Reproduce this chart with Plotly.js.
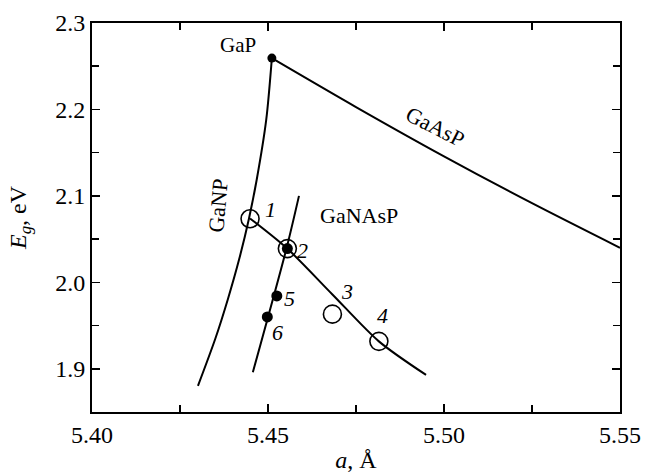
<!DOCTYPE html>
<html>
<head>
<meta charset="utf-8">
<script src="https://cdn.plot.ly/plotly-3.0.1.min.js"></script>
<style>html,body{margin:0;padding:0;background:#fff;}#chart{width:646px;height:474px;}</style>
</head>
<body>
<div id="chart"></div>
<script>
// GaAsP curve (from GaP toward GaAs)
const gaAsP_a  = [5.4511, 5.4750, 5.5000, 5.5250, 5.5500];
const gaAsP_Eg = [2.2594, 2.2028, 2.1458, 2.0916, 2.0400];
// GaNP curve
const gaNP_a  = [5.4511, 5.4495, 5.4468, 5.4446, 5.4418, 5.4386, 5.4350, 5.4301];
const gaNP_Eg = [2.2594, 2.1881, 2.1189, 2.0739, 2.0266, 1.9805, 1.9344, 1.8802];
// GaNAsP steep line
const gaNAsP_a  = [5.4457, 5.4553, 5.4588];
const gaNAsP_Eg = [1.8960, 2.0400, 2.1000];
// GaNAsP curve through samples 1-4
const curve_a  = [5.4449, 5.4554, 5.4683, 5.4815, 5.4949];
const curve_Eg = [2.0739, 2.0393, 1.9860, 1.9317, 1.8929];
// Samples: open circles (1-4) and filled dots (2,5,6)
const open_labels = ["1", "2", "3", "4"];
const open_a  = [5.4449, 5.4555, 5.4683, 5.4815];
const open_Eg = [2.0736, 2.0390, 1.9632, 1.9317];
const filled_labels = ["2", "5", "6"];
const filled_a  = [5.4555, 5.4525, 5.4498];
const filled_Eg = [2.0390, 1.9843, 1.9600];
// GaP point
const gaP_a = [5.4511];
const gaP_Eg = [2.2594];

const font = "Times New Roman";

const lineStyle = {color: "#000", width: 2, shape: "spline", smoothing: 0.8};
const traces = [
  {x: gaAsP_a, y: gaAsP_Eg, mode: "lines", line: lineStyle},
  {x: gaNP_a, y: gaNP_Eg, mode: "lines", line: lineStyle},
  {x: gaNAsP_a, y: gaNAsP_Eg, mode: "lines", line: lineStyle},
  {x: curve_a, y: curve_Eg, mode: "lines", line: lineStyle},
  {x: open_a, y: open_Eg, mode: "markers", marker: {symbol: "circle-open", size: 18, color: "#000", line: {width: 1.6, color: "#000"}}},
  {x: filled_a, y: filled_Eg, mode: "markers", marker: {symbol: "circle", size: 11, color: "#000"}},
  {x: gaP_a, y: gaP_Eg, mode: "markers", marker: {symbol: "circle", size: 9, color: "#000"}}
];

// label offsets (px)
const openShift = {"1": [20, 9], "3": [15, 23], "4": [4, 26]};
const filledShift = {"2": [15, -2], "5": [13, -3], "6": [10, -16]};

const annotations = [];
open_labels.forEach((t, i) => {
  if (!openShift[t]) return;
  annotations.push({x: open_a[i], y: open_Eg[i], xref: "x", yref: "y", text: "<i>" + t + "</i>", showarrow: false,
    xshift: openShift[t][0], yshift: openShift[t][1], font: {family: font, size: 22, color: "#000"}});
});
filled_labels.forEach((t, i) => {
  annotations.push({x: filled_a[i], y: filled_Eg[i], xref: "x", yref: "y", text: "<i>" + t + "</i>", showarrow: false,
    xshift: filledShift[t][0], yshift: filledShift[t][1], font: {family: font, size: 22, color: "#000"}});
});
annotations.push({x: gaP_a[0], y: gaP_Eg[0], xref: "x", yref: "y", text: "GaP", showarrow: false, xshift: -34, yshift: 13,
  font: {family: font, size: 21, color: "#000"}});
annotations.push({x: 5.4974, y: 2.180, xref: "x", yref: "y", text: "GaAsP", showarrow: false, textangle: 27,
  font: {family: font, size: 22, color: "#000"}});
annotations.push({x: 5.4358, y: 2.089, xref: "x", yref: "y", text: "GaNP", showarrow: false, textangle: -85,
  font: {family: font, size: 22, color: "#000"}});
annotations.push({x: 5.4759, y: 2.0774, xref: "x", yref: "y", text: "GaNAsP", showarrow: false,
  font: {family: font, size: 22, color: "#000"}});

const axisCommon = {
  showgrid: false, zeroline: false, showline: true, linecolor: "#000", linewidth: 2,
  mirror: "ticks", ticks: "inside", ticklen: 8, tickwidth: 1.5, tickcolor: "#000",
  tickfont: {family: font, size: 24, color: "#000"}
};

const layout = {
  width: 646, height: 474,
  margin: {l: 92, r: 26, t: 23, b: 62},
  paper_bgcolor: "#fff", plot_bgcolor: "#fff",
  showlegend: false,
  font: {family: font, color: "#000"},
  xaxis: Object.assign({}, axisCommon, {
    range: [5.40, 5.55], dtick: 0.05, tick0: 5.40, tickformat: ".2f",
    minor: {dtick: 0.025, ticks: "inside", ticklen: 7, tickwidth: 1.5, tickcolor: "#000"},
    title: {text: "<i>a</i>, Å", font: {family: font, size: 24, color: "#000"}, standoff: 4}
  }),
  yaxis: Object.assign({}, axisCommon, {
    range: [1.85, 2.30], dtick: 0.1, tick0: 1.9, tickformat: ".1f",
    minor: {dtick: 0.05, ticks: "inside", ticklen: 7, tickwidth: 1.5, tickcolor: "#000"},
    title: {text: "<i>E<sub>g</sub></i>, eV", font: {family: font, size: 24, color: "#000"}, standoff: 22}
  }),
  annotations: annotations
};

Plotly.newPlot("chart", traces, layout, {staticPlot: true, displayModeBar: false});
</script>
</body>
</html>
